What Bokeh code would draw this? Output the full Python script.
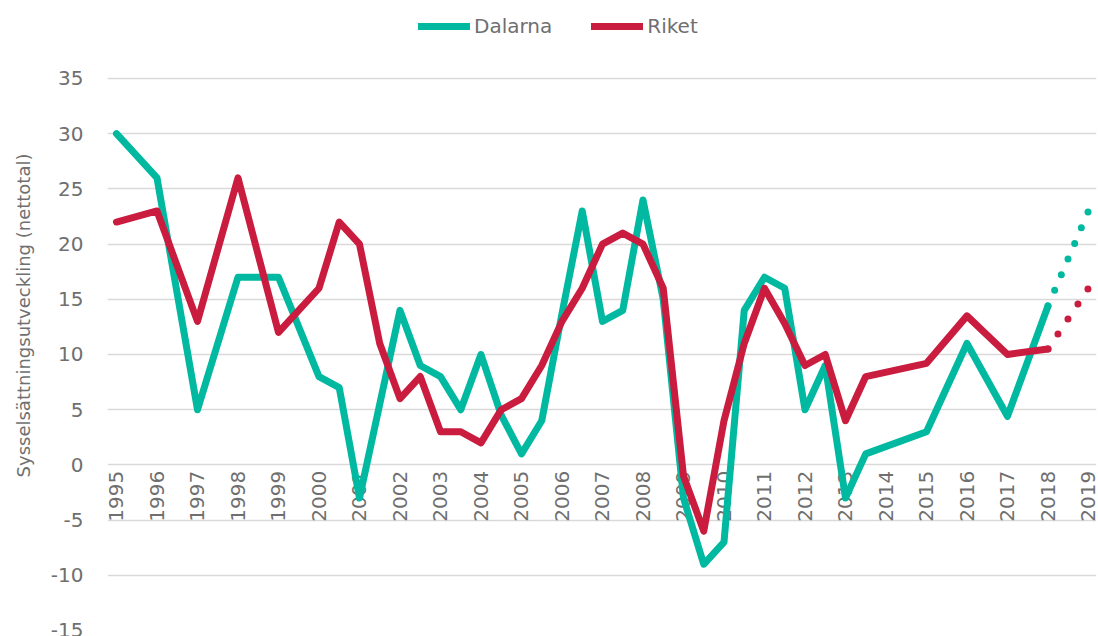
import math
from bokeh.plotting import figure
from bokeh.models import (Range1d, Legend, LegendItem, ColumnDataSource, FixedTicker,
                          LinearAxis)
from bokeh.core.properties import value
from bokeh.embed import file_html
from bokeh.resources import INLINE

# ---- data ----
years = list(range(1995, 2020))
y_ticks = [-15, -10, -5, 0, 5, 10, 15, 20, 25, 30, 35]

dalarna_x = [1995, 1996, 1997, 1998, 1999, 2000, 2000.5, 2001, 2002, 2002.5, 2003, 2003.5,
             2004, 2004.5, 2005, 2005.5, 2006, 2006.5, 2007, 2007.5, 2008, 2008.5, 2009,
             2009.5, 2010, 2010.5, 2011, 2011.5, 2012, 2012.5, 2013, 2013.5, 2015, 2016,
             2017, 2018]
dalarna_y = [30, 26, 5, 17, 17, 8, 7, -3, 14, 9, 8, 5,
             10, 4.5, 1, 4, 13.7, 23, 13, 14, 24, 15, -3,
             -9, -7, 14, 17, 16, 5, 9, -3, 1, 3, 11,
             4.4, 14.4]

riket_x = [1995, 1996, 1997, 1998, 1999, 2000, 2000.5, 2001, 2001.5, 2002, 2002.5, 2003,
           2003.5, 2004, 2004.5, 2005, 2005.5, 2006, 2006.5, 2007, 2007.5, 2008, 2008.5,
           2009, 2009.5, 2010, 2010.5, 2011, 2011.5, 2012, 2012.5, 2013, 2013.5, 2015,
           2016, 2017, 2018]
riket_y = [22, 23, 13, 26, 12, 16, 22, 20, 11, 6, 8, 3,
           3, 2, 5, 6, 9, 13, 16, 20, 21, 20, 16,
           -1, -6, 4, 11, 16, 12.8, 9, 10, 4, 8, 9.2,
           13.5, 10, 10.5]

forecast_x = [2018, 2019]
dalarna_forecast = [14.4, 23]
riket_forecast = [10.5, 16]

series_names = ["Dalarna", "Riket"]
y_title = "Sysselsättningsutveckling (nettotal)"

# ---- style ----
TEAL = "#00b9a0"
RED = "#c91c3f"
GRAY = "#6f6f6f"
FONT = "DejaVu Sans"

# frame spans the full height; the band above 35 holds the legend
p = figure(width=1098, height=636, output_backend="svg", toolbar_location=None,
           x_range=Range1d(1994.778, 2019.198), y_range=Range1d(-15, 42.065),
           min_border_left=107, min_border_right=2, min_border_top=0, min_border_bottom=6)
p.outline_line_color = None
p.background_fill_color = "white"
p.border_fill_color = "white"

p.xaxis.visible = False
p.xgrid.visible = False
p.ygrid.grid_line_color = "#d9d9d9"
p.ygrid.grid_line_width = 1.5

p.yaxis.ticker = FixedTicker(ticks=y_ticks)
p.yaxis.major_label_overrides = {t: str(t) for t in y_ticks}
p.yaxis.axis_line_color = None
p.yaxis.major_tick_line_color = None
p.yaxis.minor_tick_line_color = None
p.yaxis.major_tick_out = 0
p.yaxis.major_label_standoff = 24
p.yaxis.major_label_text_font = FONT
p.yaxis.major_label_text_font_size = "20px"
p.yaxis.major_label_text_color = GRAY

# outer axis only carrying the title
p.extra_y_ranges = {"title": Range1d(-15, 42.065)}
tax = LinearAxis(y_range_name="title", ticker=FixedTicker(ticks=[]),
                 axis_label=y_title, axis_line_color=None, major_tick_line_color=None,
                 minor_tick_line_color=None, major_tick_out=0, major_label_text_font_size="0px",
                 axis_label_standoff=14, axis_label_text_font=FONT,
                 axis_label_text_font_size="18px", axis_label_text_color=GRAY,
                 axis_label_text_font_style="normal")
p.add_layout(tax, "left")

# year labels at y = 0
ysrc = ColumnDataSource(dict(x=years, y=[0] * len(years), t=[str(y) for y in years]))
p.text(x="x", y="y", text="t", source=ysrc, angle=math.pi / 2, text_align="right",
       text_baseline="middle", y_offset=6, text_font=value(FONT), text_font_size="20px",
       text_color=GRAY)

r_d = p.line(dalarna_x, dalarna_y, line_color=TEAL, line_width=7, line_join="round", line_cap="round")
r_r = p.line(riket_x, riket_y, line_color=RED, line_width=7, line_join="round", line_cap="round")
p.line(forecast_x, dalarna_forecast, line_color=TEAL, line_width=7, line_cap="round", line_dash="0 17")
p.line(forecast_x, riket_forecast, line_color=RED, line_width=7, line_cap="round", line_dash="0 18")

legend = Legend(items=[LegendItem(label=series_names[0], renderers=[r_d]),
                       LegendItem(label=series_names[1], renderers=[r_r])],
                orientation="horizontal", location=(311, 592),
                border_line_color=None, background_fill_alpha=0,
                glyph_width=52, glyph_height=20, label_standoff=4, spacing=39,
                padding=0, margin=0, label_text_font=FONT, label_text_font_size="20px",
                label_text_color=GRAY, label_height=20)
p.add_layout(legend)

open("out.html", "w").write(file_html(p, INLINE))
